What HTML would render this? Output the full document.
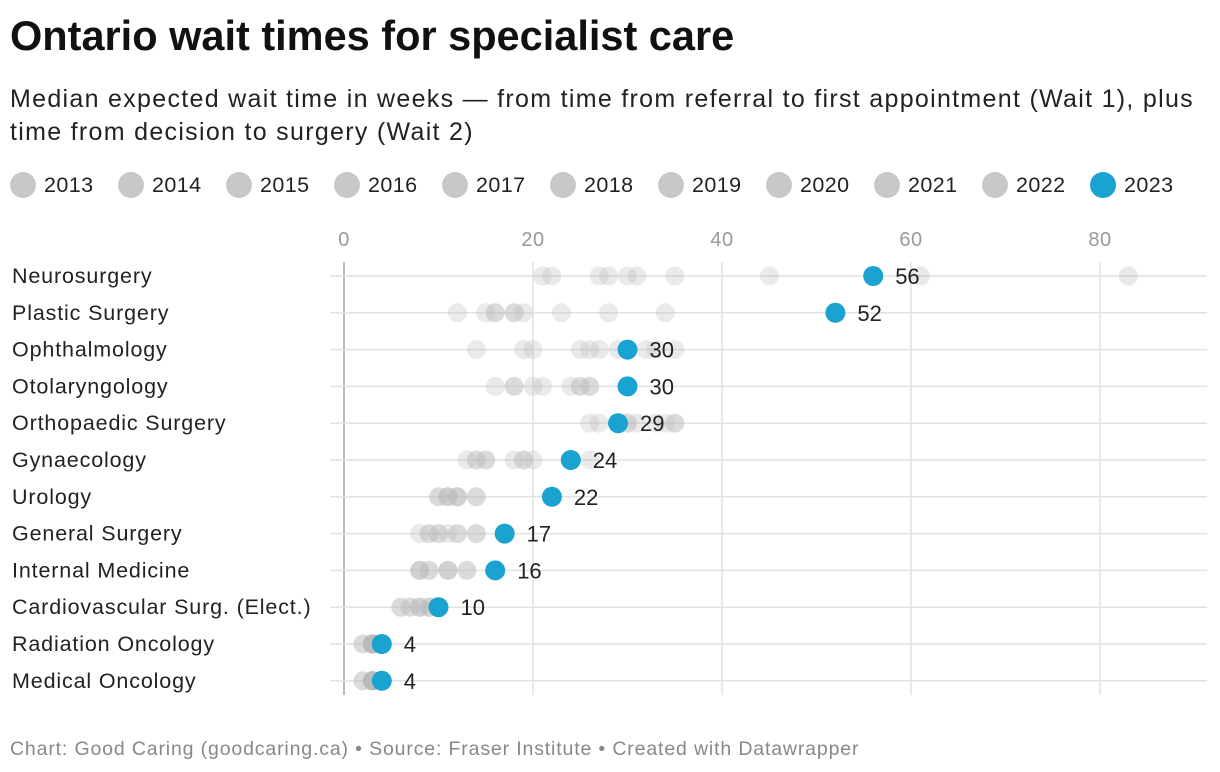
<!DOCTYPE html>
<html><head><meta charset="utf-8"><style>
body{margin:0;background:#fff;font-family:"Liberation Sans",Arial,sans-serif;}
svg{display:block}
</style></head><body>
<svg id="chart" width="1220" height="772" xmlns="http://www.w3.org/2000/svg">
<text x="10" y="50" font-size="41.5" font-weight="bold" fill="#111">Ontario wait times for specialist care</text>
<text x="10" y="107" font-size="25" letter-spacing="1.3" fill="#222">Median expected wait time in weeks — from time from referral to first appointment (Wait 1), plus</text>
<text x="10" y="140" font-size="25" letter-spacing="1.3" fill="#222">time from decision to surgery (Wait 2)</text>
<g id="legend"></g>
<g id="grid"></g>
<g id="marks"></g>
<text x="10" y="755" font-size="19.5" letter-spacing="0.85" fill="#888">Chart: Good Caring (goodcaring.ca) • Source: Fraser Institute • Created with Datawrapper</text>
</svg>
<script>
const categories=["Neurosurgery","Plastic Surgery","Ophthalmology","Otolaryngology","Orthopaedic Surgery","Gynaecology","Urology","General Surgery","Internal Medicine","Cardiovascular Surg. (Elect.)","Radiation Oncology","Medical Oncology"];
const years=["2013","2014","2015","2016","2017","2018","2019","2020","2021","2022","2023"];
const values2023=[56,52,30,30,29,24,22,17,16,10,4,4];
const pastValues=[
[21,22,27,28,30,31,35,45,61,83],
[12,15,16,16,18,18,19,23,28,34],
[14,19,20,25,26,27,29,32,33,35],
[16,18,18,20,21,24,25,26,26,25],
[26,27,29,30,30,31,33,34,35,35],
[13,14,15,18,19,19,20,26,15,14],
[10,11,11,12,14,10,11,12,12,14],
[8,9,9,10,10,11,12,12,14,14],
[8,8,9,11,11,13,13,8,9,11],
[6,7,8,9,9,8,7,6,9,8],
[2,3,3,3,3,2,3,3,3,3],
[2,3,3,3,3,2,3,3,3,3]];
const ticks=[0,20,40,60,80];
const NS="http://www.w3.org/2000/svg";
const x=v=>344+v*9.45;
const y=i=>276+i*36.8;
function el(tag,attrs,parent,text){const e=document.createElementNS(NS,tag);for(const k in attrs)e.setAttribute(k,attrs[k]);if(text!==undefined)e.textContent=text;parent.appendChild(e);return e;}
const grid=document.getElementById('grid'),marks=document.getElementById('marks'),legend=document.getElementById('legend');
let lx=10;
years.forEach((yr,i)=>{
  const g=el('g',{},legend);
  
  
  el('circle',{cx:lx+13,cy:185,r:13,fill:i===years.length-1?'#1aa3d0':'#c8c8c8'},g);
  el('text',{x:lx+34,y:192,'font-size':21.5,'letter-spacing':0.4,fill:'#222'},g,yr);
  lx+=108;
});
ticks.forEach(t=>{
  const l=el('line',{x1:x(t),x2:x(t),y1:262,y2:695,stroke:t===0?'#bbb':'#e2e2e2','stroke-width':t===0?2:1.5},grid);
  
  
  const tx=el('text',{x:x(t),y:246,'font-size':20,'letter-spacing':0.5,fill:'#999','text-anchor':'middle'},grid,String(t));
  
  
});
categories.forEach((c,i)=>{
  const l=el('line',{x1:330,x2:1207,y1:y(i),y2:y(i),stroke:'#e2e2e2','stroke-width':1.5},grid);
  
  
  const t=el('text',{x:12,y:y(i)+7,'font-size':21.5,'letter-spacing':0.85,fill:'#222'},grid,c);
  
  
  pastValues[i].forEach(v=>{
    const d=el('circle',{cx:x(v),cy:y(i),r:9.5,fill:'#b8b8b8','fill-opacity':0.3},marks);
    
    
  });
});
categories.forEach((c,i)=>{
  const v=values2023[i];
  const d=el('circle',{cx:x(v),cy:y(i),r:10,fill:'#1aa3d0'},marks);
  
  
  const t=el('text',{x:x(v)+22,y:y(i)+8,'font-size':22,fill:'#222'},marks,String(v));
  
  
});
</script>
</body></html>
